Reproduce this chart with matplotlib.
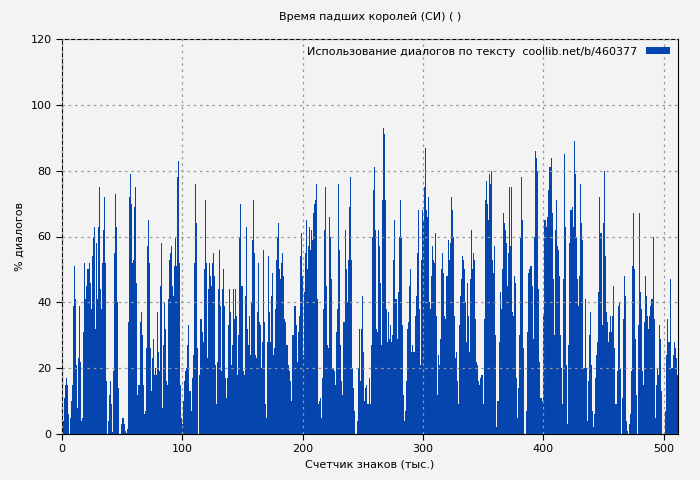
import numpy as np
import matplotlib
matplotlib.use('Agg')
import matplotlib.pyplot as plt

title = 'Время падших королей (СИ) ( )'
x_label = 'Счетчик знаков (тыс.)'
y_label = '% диалогов'
legend_label = 'Использование диалогов по тексту  coollib.net/b/460377'

# dialogue share per 1k characters (left to right)
part1 = [6, 4, 11, 15, 17, 15, 6, 0, 5, 10, 15, 39, 51, 41, 21, 8, 23, 39, 22, 4,
         5, 31, 52, 41, 45, 50, 52, 46, 38, 54, 60, 63, 32, 58, 41, 63, 75, 44, 38, 52,
         62, 72, 52, 16, 0, 4, 12, 16, 9, 0.5, 19, 55, 73, 63, 40, 14, 0, 0, 3, 5,
         5, 3, 1, 0.2, 1.5, 34, 72, 79, 70, 52, 53, 69, 75, 46, 12, 15, 34, 37, 30, 15,
         6, 7, 26, 57, 65, 52, 26, 13, 23, 29, 18, 20, 18, 37, 25, 19, 45, 58, 8, 27,
         40, 32, 16, 15, 41, 53, 55, 57, 45, 42, 51, 60, 51, 78, 83, 52, 15, 5, 3, 10,
         16, 19, 20, 27, 33, 13, 7, 17, 24, 52, 76, 64, 26, 0, 18, 35, 35, 31, 28, 50,
         71, 52, 23, 44, 52]
part2 = [48, 45, 52, 55, 48, 21, 9, 22, 44, 56, 39, 19, 44, 50, 39, 17, 11, 17, 33, 44,
         37, 21, 27, 44, 35, 44, 36, 18, 30, 60, 70, 45, 19, 18, 42, 63, 32, 27, 36, 24,
         40, 59, 71, 55, 24, 23, 37, 52, 34, 33, 20, 28, 56, 34, 9, 5, 28, 54, 37, 28,
         42, 49, 24, 26, 38, 53, 60, 64, 50, 47, 52, 55, 48, 35, 34, 27, 27, 21, 19, 16,
         10, 30, 39, 39, 33, 22, 31, 36, 54, 61, 48, 24, 43, 55, 65, 50, 57, 63, 56, 62,
         59, 67, 70, 71, 76, 41, 9, 10, 11, 5, 17, 38, 62, 75, 45, 27, 26, 66, 60, 47,
         20, 20, 19, 15, 31, 38, 76, 56, 27, 16, 12, 34, 62, 50, 40, 53, 69, 78, 53, 20,
         14, 7, 0, 0, 4, 20, 32, 16, 32, 42, 25, 10, 14, 15, 9, 9]
part3 = [17, 9, 27, 60, 74, 81, 62, 32, 31, 62, 57, 46, 27, 71, 93, 91, 71, 38, 28, 37,
         29, 33, 28, 30, 53, 65, 41, 29, 43, 60, 71, 60, 33, 12, 4, 7, 16, 32, 34, 45,
         50, 25, 27, 25, 25, 36, 42, 55, 68, 38, 21, 53, 68, 65, 75, 87, 68, 66, 72, 40,
         38, 48, 57, 53, 52, 61, 36, 12, 24, 21, 29, 50, 55, 49, 36, 35, 48, 59, 53, 58,
         72, 68, 60, 36, 23, 25, 16, 9, 33, 42, 47, 54, 53, 50, 40, 28, 46, 36, 25, 47,
         62, 50, 55, 53, 35, 22, 21, 16, 15, 17, 18, 18, 9, 35, 71, 77, 70, 65, 79, 76,
         80, 53, 49, 57, 30, 2, 10, 28, 43, 38, 50, 67, 64, 62, 58, 45, 55, 75, 57, 75,
         37, 36, 48, 46, 17, 5, 14, 30, 60, 78, 65, 26, 0, 0, 7]
part4 = [31, 49, 50, 51, 51, 45, 29, 60, 86, 84, 80, 44, 22, 11, 11, 10, 36, 65, 65, 63,
         66, 74, 81, 84, 67, 47, 30, 62, 71, 57, 56, 48, 30, 20, 9, 47, 85, 63, 21, 3,
         27, 58, 68, 68, 69, 63, 89, 79, 60, 47, 39, 48, 76, 64, 59, 20, 20, 41, 20, 4,
         16, 30, 37, 21, 7, 2, 6, 17, 24, 28, 43, 72, 61, 33, 64, 80, 54, 37, 34, 28,
         31, 36, 31, 36, 45, 26, 9, 9, 19, 39, 40, 20, 0, 11, 35, 48, 42, 4, 1, 0,
         3, 6, 19, 51, 67, 50, 29, 12, 0, 33, 67, 43, 38, 19, 15, 34, 48, 42, 36, 32,
         36, 39, 41, 60, 35, 5, 15, 20, 18, 33, 29, 13, 0, 0, 0, 7, 24, 35, 28, 28,
         47, 20, 20, 24, 28, 26, 23, 18]

values = np.array(part1 + part2 + part3 + part4)
x_max = 512
pos = np.linspace(0, x_max, len(values), endpoint=False)
width = x_max / len(values)

bg = '#f3f3f3'
fig = plt.figure(figsize=(7, 4.8), dpi=100, facecolor=bg)
ax = fig.add_axes([62 / 700, 46 / 480, 616 / 700, 395 / 480], facecolor=bg)
ax.bar(pos, values, width=width, align='edge', color='#0645ad', linewidth=0,
       label=legend_label, zorder=2)

ax.set_xlim(0, x_max)
ax.set_ylim(0, 120)
ax.set_xticks(range(0, 501, 100))
ax.set_yticks(range(0, 121, 20))
ax.tick_params(labelsize=8, length=4)
ax.grid(True, linestyle=(0, (2, 3)), color='#999999', linewidth=0.9, zorder=1)
ax.set_axisbelow(False)
for sp in ax.spines.values():
    sp.set_color('black')

ax.set_title(title, fontsize=8, pad=14)
ax.set_xlabel(x_label, fontsize=8)
ax.set_ylabel(y_label, fontsize=8)
leg = ax.legend(loc='upper right', fontsize=8, frameon=False, handlelength=2.2,
                handleheight=0.6, markerfirst=False, borderaxespad=0.3)

fig.savefig('out.png', dpi=100, facecolor=bg)
